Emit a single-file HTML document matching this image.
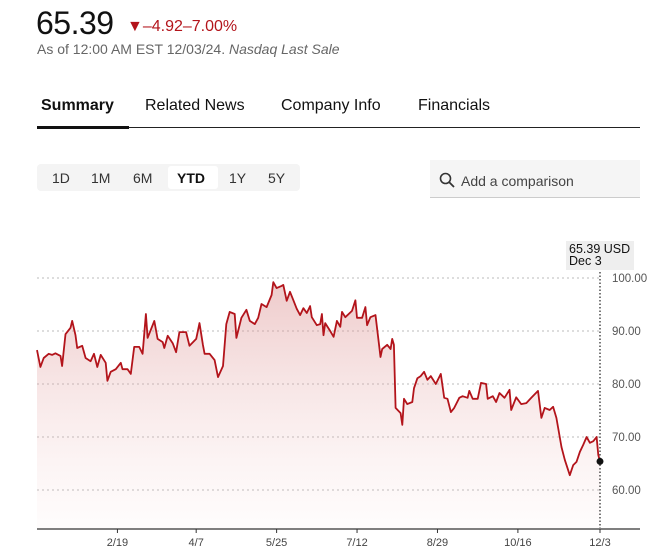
<!DOCTYPE html>
<html><head><meta charset="utf-8">
<style>
body{margin:0;width:658px;height:559px;background:#fff;font-family:"Liberation Sans",Arial,sans-serif;position:relative;overflow:hidden;color:#111}
.abs{position:absolute}
</style></head><body>
<div class="abs" style="left:36px;top:5px;font-size:32px;letter-spacing:-0.5px;color:#111">65.39</div>
<div class="abs" style="left:127px;top:18px;font-size:16px;color:#b3141b">▼–4.92–7.00%</div>
<div class="abs" style="left:37px;top:41px;font-size:14px;color:#666">As of 12:00 AM EST 12/03/24. <i>Nasdaq Last Sale</i></div>

<div class="abs" style="left:41px;top:97px;font-size:16px;font-weight:bold">Summary</div>
<div class="abs" style="left:145px;top:97px;font-size:16px">Related News</div>
<div class="abs" style="left:281px;top:97px;font-size:16px">Company Info</div>
<div class="abs" style="left:418px;top:97px;font-size:16px">Financials</div>
<div class="abs" style="left:37px;top:127px;width:603px;height:1px;background:#222"></div>
<div class="abs" style="left:37px;top:126px;width:92px;height:3px;background:#111"></div>

<div class="abs" style="left:37px;top:164px;width:263px;height:27px;background:#f4f4f4;border-radius:4px"></div>
<div class="abs" style="left:52px;top:170px;font-size:14px;color:#333">1D</div>
<div class="abs" style="left:91px;top:170px;font-size:14px;color:#333">1M</div>
<div class="abs" style="left:133px;top:170px;font-size:14px;color:#333">6M</div>
<div class="abs" style="left:168px;top:166px;width:50px;height:23px;background:#fff;border-radius:3px"></div>
<div class="abs" style="left:177px;top:170px;font-size:14px;font-weight:bold;color:#111">YTD</div>
<div class="abs" style="left:229px;top:170px;font-size:14px;color:#333">1Y</div>
<div class="abs" style="left:268px;top:170px;font-size:14px;color:#333">5Y</div>

<div class="abs" style="left:430px;top:160px;width:210px;height:37px;background:#f5f5f5;border-bottom:1px solid #ccc"></div>
<svg class="abs" style="left:439px;top:172px" width="16" height="16"><circle cx="6.5" cy="6.5" r="5" fill="none" stroke="#333" stroke-width="1.6"/><line x1="10" y1="10" x2="15" y2="15" stroke="#333" stroke-width="1.8"/></svg>
<div class="abs" style="left:461px;top:173px;font-size:14px;color:#444">Add a comparison</div>

<svg class="abs" id="chart" style="left:0;top:0" width="658" height="559"></svg>

<script>
const days=[0,2,4,7,9,11,14,15,17,20,21,23,24,27,29,32,34,36,38,41,42,44,47,50,51,54,56,58,61,63,65,66,70,72,75,76,78,81,83,85,89,91,95,97,99,100,103,106,108,111,113,115,118,119,122,125,127,130,132,134,137,140,141,143,146,147,149,151,153,155,157,159,161,163,164,167,169,170,171,172,175,177,179,181,182,184,188,190,191,194,196,197,199,202,205,206,209,211,212,213,214,217,218,219,221,224,225,227,229,231,233,235,238,241,243,245,247,249,252,254,257,258,260,263,265,268,269,272,274,276,279,282,283,286,289,292,295,299,301,303,306,308,310,313,315,318,320,322,324,326,328,330,332,334,335,336];
const prices=[86.4,83.2,84.9,85.7,85.5,85.8,85.3,83.4,89.4,90.6,91.9,89.2,86.8,87.2,84.9,84.3,85.7,83.2,85.5,84.0,80.6,82.3,82.8,84.0,82.8,82.8,81.9,87.0,87.0,85.7,93.2,88.7,91.9,88.5,87.9,86.8,89.1,87.7,86.0,89.8,89.8,87.2,88.5,91.5,87.4,85.7,85.7,84.5,81.3,83.4,91.3,93.6,93.2,88.7,92.5,94.0,91.9,91.3,92.5,95.1,94.5,96.8,99.2,98.1,98.5,98.7,95.7,97.4,95.8,94.2,93.0,94.3,93.4,94.7,92.6,91.1,91.3,93.2,89.2,91.5,90.0,88.9,91.9,90.8,93.6,92.6,93.8,95.8,92.5,92.5,94.5,91.1,92.6,93.0,85.1,86.6,87.4,86.6,88.5,87.4,75.5,74.5,72.3,77.2,76.2,76.6,79.2,81.1,81.5,82.3,80.8,81.5,80.0,81.9,77.4,77.2,74.7,75.5,77.4,77.7,77.4,78.7,77.2,77.2,80.2,80.0,77.2,77.7,76.6,78.3,77.4,78.9,75.1,77.5,76.2,76.4,77.4,78.7,73.6,75.5,75.1,75.7,73.6,68.1,65.7,62.8,64.7,65.3,67.2,68.5,70.0,68.9,69.2,70.0,66.6,65.39];
const yTicks=[100,90,80,70,60];
const yTickLabels=["100.00","90.00","80.00","70.00","60.00"];
const xTickDays=[48,95,143,191,239,287,336];
const xTickLabels=["2/19","4/7","5/25","7/12","8/29","10/16","12/3"];
const lastLabel=["65.39 USD","Dec 3"];

const NS="http://www.w3.org/2000/svg";
const svg=document.getElementById('chart');
const X=d=>37+d*(563/336);
const Y=v=>278+(100-v)*5.3;
const BASE=528;
function mk(t,a){const e=document.createElementNS(NS,t);for(const k in a)e.setAttribute(k,a[k]);svg.appendChild(e);return e;}
const defs=mk('defs',{});
defs.innerHTML='<linearGradient id="fillg" x1="0" y1="0" x2="0" y2="1"><stop offset="0" stop-color="#d98a8a" stop-opacity="0.45"/><stop offset="1" stop-color="#f2caca" stop-opacity="0.05"/></linearGradient>';
yTicks.forEach((v,i)=>{
  const g=mk('line',{x1:37,x2:600,y1:Y(v),y2:Y(v),stroke:'#bbb','stroke-dasharray':'2,3','stroke-width':1});
  
  
  const t=mk('text',{x:612,y:Y(v)+4,'font-size':11.5,fill:'#555','font-family':'Liberation Sans, sans-serif'});
  t.textContent=yTickLabels[i];
  
  
});
let d='';
days.forEach((dd,i)=>{d+=(i?'L':'M')+X(dd).toFixed(1)+','+Y(prices[i]).toFixed(1);});
const area=mk('path',{d:d+'L'+X(days[days.length-1])+','+BASE+'L'+X(days[0])+','+BASE+'Z',fill:'url(#fillg)'});


const line=mk('path',{d:d,fill:'none',stroke:'#b3141b','stroke-width':1.8,'stroke-linejoin':'round'});


const ax=mk('line',{x1:37,x2:640,y1:BASE+1,y2:BASE+1,stroke:'#333','stroke-width':1.3});


xTickDays.forEach((dd,i)=>{
  const tk=mk('line',{x1:X(dd),x2:X(dd),y1:BASE+1,y2:BASE+5,stroke:'#333','stroke-width':1});
  
  
  const t=mk('text',{x:X(dd),y:BASE+18,'font-size':11,fill:'#444','text-anchor':'middle','font-family':'Liberation Sans, sans-serif'});
  t.textContent=xTickLabels[i];
  
  
});
const lx=X(days[days.length-1]), ly=Y(prices[prices.length-1]);
const vl=mk('line',{x1:lx,x2:lx,y1:258,y2:BASE,stroke:'#222','stroke-dasharray':'1.5,2','stroke-width':1.2});


const dot=mk('circle',{cx:lx,cy:ly,r:3.5,fill:'#111'});


const box=mk('rect',{x:566,y:241,width:68,height:29,fill:'#eeeeee'});


lastLabel.forEach((s,i)=>{
  const t=mk('text',{x:569,y:253+i*12,'font-size':12.5,fill:'#111','font-family':'Liberation Sans, sans-serif'});
  t.textContent=s;
  
  
});
</script>
</body></html>
